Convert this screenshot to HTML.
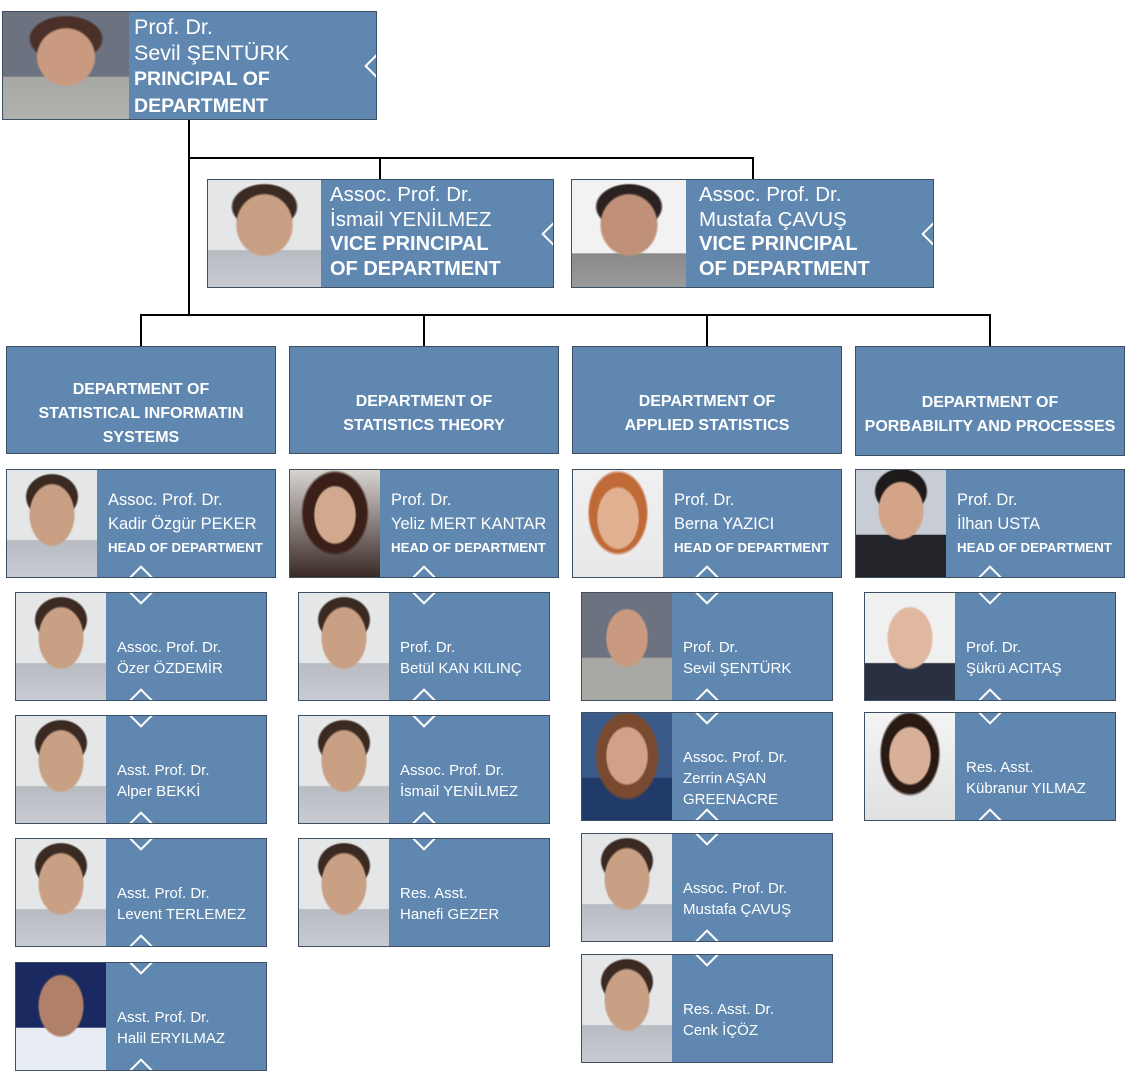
<!DOCTYPE html>
<html><head><meta charset="utf-8"><style>
body{margin:0;width:1126px;height:1072px;background:#fff;position:relative;overflow:hidden;font-family:"Liberation Sans",sans-serif}
.b{position:absolute;background:#5f87b0;border:1px solid #3d4f60;box-sizing:border-box;overflow:hidden;color:#fff}
.p{position:absolute;left:0;top:0;bottom:0;background:radial-gradient(ellipse 26% 30% at 50% 42%,#c9a084 92%,transparent 100%),radial-gradient(ellipse 30% 22% at 50% 25%,#3a2a22 92%,transparent 100%),linear-gradient(to bottom,#e4e6e8 65%,#b8bcc2 66%,#c8ccd2)}
.t{position:absolute;top:0;white-space:nowrap}
.d{position:absolute;width:14px;height:14px;background:#5f87b0;border:2px solid #fff;transform:rotate(45deg);left:50%;margin-left:-9px}
.db{bottom:-10px}.dt{top:-10px}
.dr{right:-10px;top:50%;margin-top:-9px;left:auto;margin-left:0}
.l{position:absolute;background:#000}
.dep{display:flex;align-items:center;justify-content:center;text-align:center;font-weight:bold;font-size:16px;line-height:24px;padding-top:27px}
.h .t{left:101px;padding-top:19px;line-height:23.5px;font-size:16.5px}
.h .t b{font-size:13.3px}
.m .t{left:101px;padding-top:43.5px;line-height:21px;font-size:15px}
.m .p,.h .p{width:90px}
</style></head><body>
<!-- connectors -->
<div class="l" style="left:188px;top:119px;width:2px;height:197px"></div>
<div class="l" style="left:188px;top:157px;width:566px;height:2px"></div>
<div class="l" style="left:379px;top:157px;width:2px;height:23px"></div>
<div class="l" style="left:752px;top:157px;width:2px;height:23px"></div>
<div class="l" style="left:140px;top:314px;width:851px;height:2px"></div>
<div class="l" style="left:140px;top:314px;width:2px;height:33px"></div>
<div class="l" style="left:423px;top:314px;width:2px;height:33px"></div>
<div class="l" style="left:706px;top:314px;width:2px;height:33px"></div>
<div class="l" style="left:989px;top:314px;width:2px;height:33px"></div>

<!-- top -->
<div class="b" style="left:2px;top:11px;width:375px;height:109px">
<div class="p" style="width:126px;background:radial-gradient(ellipse 24% 28% at 50% 42%,#c99a80 92%,transparent 100%),radial-gradient(ellipse 30% 22% at 50% 25%,#4a3028 92%,transparent 100%),linear-gradient(to bottom,#6c7280 60%,#a8a8a4 61%,#b0b0ac)"></div>
<div class="t" style="left:131px;padding-top:3px;line-height:25.5px;font-size:21.5px">Prof. Dr.<br>Sevil ŞENTÜRK<br><b style="font-size:19.5px">PRINCIPAL OF<br>DEPARTMENT</b></div>
<div class="d dr"></div></div>

<div class="b" style="left:207px;top:179px;width:347px;height:109px">
<div class="p" style="width:113px"></div>
<div class="t" style="left:122px;padding-top:3px;line-height:24.5px;font-size:20.5px">Assoc. Prof. Dr.<br>İsmail YENİLMEZ<br><b style="font-size:20px">VICE PRINCIPAL<br>OF DEPARTMENT</b></div>
<div class="d dr"></div></div>

<div class="b" style="left:571px;top:179px;width:363px;height:109px">
<div class="p" style="width:114px;background:radial-gradient(ellipse 26% 30% at 50% 42%,#c09078 92%,transparent 100%),radial-gradient(ellipse 30% 22% at 50% 25%,#2a2220 92%,transparent 100%),linear-gradient(to bottom,#f2f2f2 68%,#8a8a8a 69%,#9a9a9a)"></div>
<div class="t" style="left:127px;padding-top:3px;line-height:24.5px;font-size:20.5px">Assoc. Prof. Dr.<br>Mustafa ÇAVUŞ<br><b style="font-size:20px">VICE PRINCIPAL<br>OF DEPARTMENT</b></div>
<div class="d dr"></div></div>

<!-- departments -->
<div class="b dep" style="left:6px;top:346px;width:270px;height:108px">DEPARTMENT OF<br>STATISTICAL INFORMATIN<br>SYSTEMS</div>
<div class="b dep" style="left:289px;top:346px;width:270px;height:108px">DEPARTMENT OF<br>STATISTICS THEORY</div>
<div class="b dep" style="left:572px;top:346px;width:270px;height:108px">DEPARTMENT OF<br>APPLIED STATISTICS</div>
<div class="b dep" style="left:855px;top:346px;width:270px;height:110px">DEPARTMENT OF<br>PORBABILITY AND PROCESSES</div>

<!-- heads -->
<div class="b h" style="left:6px;top:469px;width:270px;height:109px"><div class="p"></div><div class="t">Assoc. Prof. Dr.<br>Kadir Özgür PEKER<br><b>HEAD OF DEPARTMENT</b></div><div class="d db"></div></div>
<div class="b h" style="left:289px;top:469px;width:270px;height:109px"><div class="p" style="background:radial-gradient(ellipse 24% 28% at 50% 42%,#d2a88e 92%,transparent 100%),radial-gradient(ellipse 38% 40% at 50% 40%,#3a2018 92%,transparent 100%),linear-gradient(#d8d4d0,#3a2a26)"></div><div class="t">Prof. Dr.<br>Yeliz MERT KANTAR<br><b>HEAD OF DEPARTMENT</b></div><div class="d db"></div></div>
<div class="b h" style="left:572px;top:469px;width:270px;height:109px"><div class="p" style="background:radial-gradient(ellipse 24% 30% at 50% 45%,#e0b090 92%,transparent 100%),radial-gradient(ellipse 34% 40% at 50% 40%,#c06a38 92%,transparent 100%),linear-gradient(#f0f0f0,#e8e8e8)"></div><div class="t">Prof. Dr.<br>Berna YAZICI<br><b>HEAD OF DEPARTMENT</b></div><div class="d db"></div></div>
<div class="b h" style="left:855px;top:469px;width:270px;height:109px"><div class="p" style="background:radial-gradient(ellipse 26% 28% at 50% 38%,#d4a488 92%,transparent 100%),radial-gradient(ellipse 30% 22% at 50% 20%,#1e1a1a 92%,transparent 100%),linear-gradient(to bottom,#c8ccd4 60%,#22242a 61%)"></div><div class="t">Prof. Dr.<br>İlhan USTA<br><b>HEAD OF DEPARTMENT</b></div><div class="d db"></div></div>

<!-- column 1 -->
<div class="b m" style="left:15px;top:592px;width:252px;height:109px"><div class="p"></div><div class="t">Assoc. Prof. Dr.<br>Özer ÖZDEMİR</div><div class="d dt"></div><div class="d db"></div></div>
<div class="b m" style="left:15px;top:715px;width:252px;height:109px"><div class="p"></div><div class="t">Asst. Prof. Dr.<br>Alper BEKKİ</div><div class="d dt"></div><div class="d db"></div></div>
<div class="b m" style="left:15px;top:838px;width:252px;height:109px"><div class="p"></div><div class="t">Asst. Prof. Dr.<br>Levent TERLEMEZ</div><div class="d dt"></div><div class="d db"></div></div>
<div class="b m" style="left:15px;top:962px;width:252px;height:109px"><div class="p" style="background:radial-gradient(ellipse 26% 30% at 50% 40%,#b08068 92%,transparent 100%),linear-gradient(to bottom,#1a2a60 60%,#e8ecf4 61%)"></div><div class="t">Asst. Prof. Dr.<br>Halil ERYILMAZ</div><div class="d dt"></div><div class="d db"></div></div>

<!-- column 2 -->
<div class="b m" style="left:298px;top:592px;width:252px;height:109px"><div class="p"></div><div class="t">Prof. Dr.<br>Betül KAN KILINÇ</div><div class="d dt"></div><div class="d db"></div></div>
<div class="b m" style="left:298px;top:715px;width:252px;height:109px"><div class="p"></div><div class="t">Assoc. Prof. Dr.<br>İsmail YENİLMEZ</div><div class="d dt"></div><div class="d db"></div></div>
<div class="b m" style="left:298px;top:838px;width:252px;height:109px"><div class="p"></div><div class="t">Res. Asst.<br>Hanefi GEZER</div><div class="d dt"></div></div>

<!-- column 3 -->
<div class="b m" style="left:581px;top:592px;width:252px;height:109px"><div class="p" style="background:radial-gradient(ellipse 24% 28% at 50% 42%,#c99a80 92%,transparent 100%),linear-gradient(to bottom,#6c7280 60%,#a8a8a4 61%)"></div><div class="t">Prof. Dr.<br>Sevil ŞENTÜRK</div><div class="d dt"></div><div class="d db"></div></div>
<div class="b m" style="left:581px;top:712px;width:252px;height:109px"><div class="p" style="background:radial-gradient(ellipse 24% 28% at 50% 40%,#d0a088 92%,transparent 100%),radial-gradient(ellipse 36% 42% at 50% 40%,#7a4a30 92%,transparent 100%),linear-gradient(to bottom,#3a5a8a 60%,#203a6a 61%)"></div><div class="t" style="padding-top:33.5px">Assoc. Prof. Dr.<br>Zerrin AŞAN<br>GREENACRE</div><div class="d dt"></div><div class="d db"></div></div>
<div class="b m" style="left:581px;top:833px;width:252px;height:109px"><div class="p"></div><div class="t">Assoc. Prof. Dr.<br>Mustafa ÇAVUŞ</div><div class="d dt"></div><div class="d db"></div></div>
<div class="b m" style="left:581px;top:954px;width:252px;height:109px"><div class="p"></div><div class="t">Res. Asst. Dr.<br>Cenk İÇÖZ</div><div class="d dt"></div></div>

<!-- column 4 -->
<div class="b m" style="left:864px;top:592px;width:252px;height:109px"><div class="p" style="background:radial-gradient(ellipse 26% 30% at 50% 42%,#e0b8a0 92%,transparent 100%),linear-gradient(to bottom,#f0f0f0 65%,#2a3040 66%)"></div><div class="t">Prof. Dr.<br>Şükrü ACITAŞ</div><div class="d dt"></div><div class="d db"></div></div>
<div class="b m" style="left:864px;top:712px;width:252px;height:109px"><div class="p" style="background:radial-gradient(ellipse 24% 28% at 50% 40%,#d8b098 92%,transparent 100%),radial-gradient(ellipse 34% 40% at 50% 38%,#2a1a14 92%,transparent 100%),linear-gradient(#f4f4f4,#e0e0e0)"></div><div class="t">Res. Asst.<br>Kübranur YILMAZ</div><div class="d dt"></div><div class="d db"></div></div>
</body></html>
